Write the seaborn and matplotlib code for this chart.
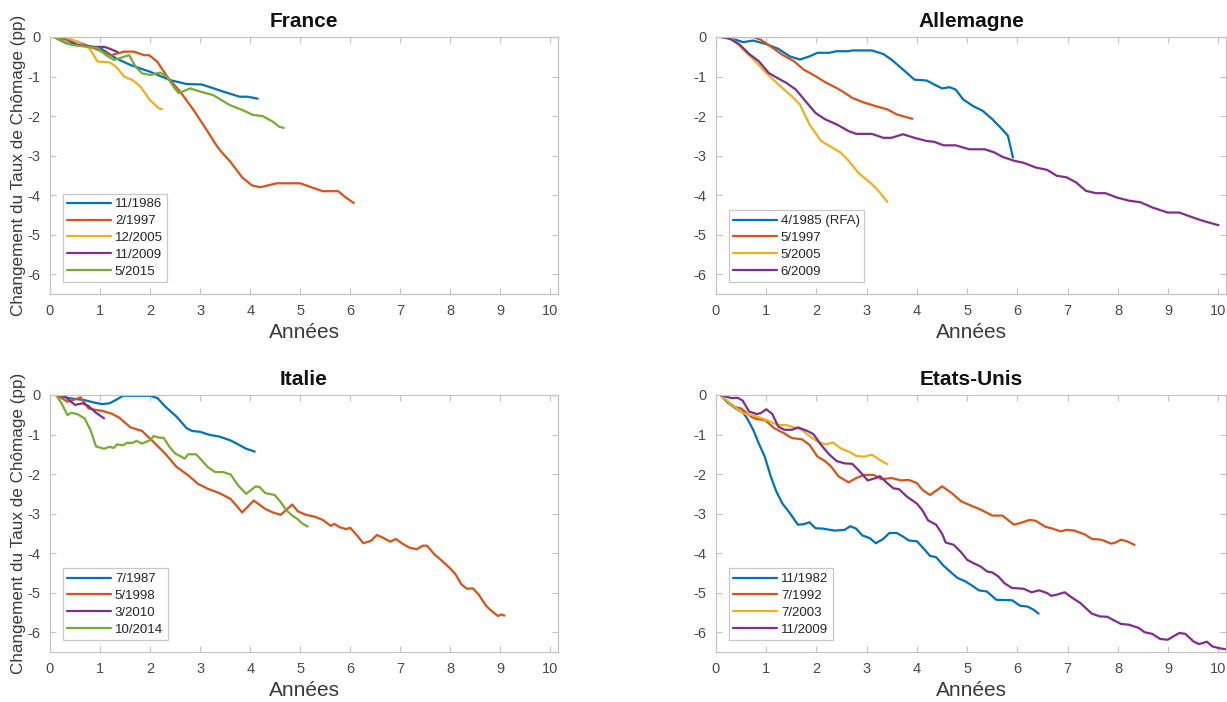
import numpy as np
import pandas as pd
import matplotlib
matplotlib.use("Agg")
import matplotlib.pyplot as plt
import seaborn as sns

# ---------------- DATA ----------------
# France
fr_1986_x = [0.08, 0.3, 0.55, 0.8, 1.02, 1.32, 1.61, 2.0, 2.4, 2.73, 3.03, 3.2, 3.46, 3.79, 3.95, 4.15]
fr_1986_y = [0.0, -0.05, -0.2, -0.25, -0.29, -0.54, -0.71, -0.88, -1.09, -1.19, -1.2, -1.27, -1.38, -1.51, -1.51, -1.56]
fr_1997_x = [0.08, 0.3, 0.55, 0.89, 1.22, 1.48, 1.68, 1.88, 1.98, 2.14, 2.34, 2.6, 2.87, 3.13, 3.33, 3.42, 3.6, 3.84,
             4.03, 4.2, 4.53, 5.0, 5.22, 5.45, 5.76, 5.9, 6.07]
fr_1997_y = [0.0, -0.05, -0.12, -0.29, -0.46, -0.37, -0.37, -0.46, -0.46, -0.62, -1.0, -1.38, -1.85, -2.35, -2.75,
             -2.9, -3.15, -3.55, -3.75, -3.8, -3.7, -3.7, -3.8, -3.9, -3.9, -4.05, -4.2]
fr_2005_x = [0.08, 0.3, 0.55, 0.79, 0.95, 1.19, 1.32, 1.48, 1.65, 1.81, 2.0, 2.17, 2.24]
fr_2005_y = [0.0, 0.0, -0.12, -0.29, -0.62, -0.64, -0.75, -1.0, -1.09, -1.26, -1.6, -1.8, -1.83]
fr_2009_x = [0.08, 0.33, 0.55, 0.89, 1.09, 1.22, 1.35]
fr_2009_y = [0.0, -0.16, -0.2, -0.25, -0.25, -0.31, -0.38]
fr_2015_x = [0.08, 0.43, 0.76, 0.95, 1.12, 1.28, 1.48, 1.58, 1.71, 1.84, 2.0, 2.2, 2.33, 2.47, 2.57, 2.8, 3.0,
             3.26, 3.59, 3.85, 4.05, 4.25, 4.45, 4.58, 4.67]
fr_2015_y = [0.0, -0.2, -0.25, -0.28, -0.46, -0.58, -0.5, -0.46, -0.75, -0.92, -0.96, -0.9, -1.0, -1.26, -1.42,
             -1.3, -1.38, -1.47, -1.72, -1.85, -1.97, -2.0, -2.14, -2.27, -2.3]

# Allemagne
de_1985_x = [0.1, 0.39, 0.54, 0.74, 1.0, 1.24, 1.47, 1.67, 1.86, 2.02, 2.25, 2.4, 2.64, 2.71, 3.1, 3.33, 3.49, 3.72,
             3.95, 4.19, 4.34, 4.5, 4.65, 4.77, 4.92, 5.12, 5.31, 5.5, 5.7, 5.81, 5.91]
de_1985_y = [0.0, -0.07, -0.13, -0.09, -0.18, -0.3, -0.49, -0.57, -0.49, -0.4, -0.4, -0.36, -0.36, -0.34, -0.34,
             -0.43, -0.57, -0.82, -1.08, -1.1, -1.2, -1.3, -1.27, -1.33, -1.58, -1.75, -1.87, -2.08, -2.34, -2.5, -3.05]
de_1997_x = [0.1, 0.74, 0.89, 1.09, 1.32, 1.55, 1.74, 1.98, 2.17, 2.4, 2.56, 2.71, 2.95, 3.18, 3.41, 3.6, 3.91]
de_1997_y = [0.0, 0.0, -0.07, -0.24, -0.45, -0.61, -0.82, -0.99, -1.14, -1.29, -1.41, -1.54, -1.66, -1.75, -1.83,
             -1.96, -2.07]
de_2005_x = [0.1, 0.31, 0.54, 0.78, 1.0, 1.24, 1.51, 1.67, 1.86, 2.09, 2.29, 2.48, 2.64, 2.83, 3.1, 3.26, 3.41]
de_2005_y = [0.0, -0.03, -0.32, -0.61, -0.91, -1.2, -1.5, -1.71, -2.21, -2.63, -2.78, -2.92, -3.13, -3.43, -3.72,
             -3.93, -4.17]
de_2009_x = [0.1, 0.27, 0.47, 0.66, 0.85, 1.05, 1.24, 1.4, 1.59, 1.78, 1.98, 2.17, 2.4, 2.64, 2.79, 3.1, 3.33, 3.49,
             3.72, 3.95, 4.19, 4.34, 4.53, 4.77, 5.04, 5.35, 5.54, 5.7, 5.93, 6.12, 6.36, 6.59, 6.78, 6.98, 7.17,
             7.36, 7.56, 7.75, 7.98, 8.22, 8.45, 8.68, 8.99, 9.22, 9.46, 9.69, 10.0]
de_2009_y = [0.0, -0.04, -0.19, -0.43, -0.61, -0.91, -1.05, -1.16, -1.33, -1.62, -1.92, -2.08, -2.21, -2.38, -2.45,
             -2.45, -2.55, -2.55, -2.46, -2.55, -2.63, -2.65, -2.74, -2.74, -2.84, -2.84, -2.92, -3.03, -3.13,
             -3.18, -3.3, -3.36, -3.51, -3.55, -3.68, -3.89, -3.95, -3.95, -4.06, -4.14, -4.18, -4.31, -4.44,
             -4.44, -4.55, -4.65, -4.76]

# Italie
it_1987_x = [0.12, 0.38, 0.69, 0.88, 1.04, 1.19, 1.31, 1.46, 2.0, 2.15, 2.3, 2.53, 2.73, 2.84, 3.0, 3.19, 3.38,
             3.61, 3.76, 3.92, 4.09]
it_1987_y = [0.0, -0.08, -0.13, -0.19, -0.23, -0.21, -0.13, -0.02, -0.02, -0.08, -0.29, -0.55, -0.84, -0.91, -0.93,
             -1.01, -1.05, -1.15, -1.25, -1.36, -1.43]
it_1998_x = [0.12, 0.35, 0.5, 0.61, 0.77, 0.92, 1.04, 1.23, 1.38, 1.61, 1.84, 2.07, 2.3, 2.53, 2.76, 2.96, 3.15,
             3.38, 3.61, 3.84, 4.07, 4.3, 4.45, 4.61, 4.84, 4.95, 5.11, 5.3, 5.45, 5.61, 5.68, 5.8, 5.91, 6.0,
             6.14, 6.26, 6.41, 6.53, 6.64, 6.8, 6.91, 7.03, 7.18, 7.33, 7.45, 7.53, 7.68, 7.83, 7.99, 8.1, 8.22,
             8.33, 8.45, 8.56, 8.72, 8.83, 8.95, 9.02, 9.08]
it_1998_y = [0.0, -0.17, -0.11, -0.06, -0.34, -0.38, -0.4, -0.47, -0.57, -0.82, -0.91, -1.19, -1.48, -1.82, -2.03,
             -2.25, -2.37, -2.48, -2.63, -2.97, -2.67, -2.88, -2.97, -3.03, -2.77, -2.94, -3.03, -3.08, -3.16,
             -3.31, -3.26, -3.35, -3.39, -3.36, -3.56, -3.75, -3.69, -3.54, -3.6, -3.71, -3.64, -3.75, -3.86,
             -3.9, -3.81, -3.81, -4.03, -4.19, -4.38, -4.53, -4.79, -4.9, -4.89, -5.04, -5.34, -5.47, -5.59,
             -5.55, -5.58]
it_2010_x = [0.12, 0.27, 0.38, 0.5, 0.65, 0.77, 0.92, 1.08]
it_2010_y = [0.0, 0.0, -0.13, -0.25, -0.21, -0.28, -0.45, -0.59]
it_2014_x = [0.12, 0.23, 0.35, 0.42, 0.54, 0.69, 0.81, 0.92, 1.08, 1.19, 1.27, 1.34, 1.46, 1.54, 1.65, 1.73, 1.84,
             2.0, 2.07, 2.19, 2.27, 2.38, 2.5, 2.61, 2.69, 2.76, 2.92, 3.03, 3.15, 3.3, 3.46, 3.61, 3.76, 3.92,
             4.0, 4.11, 4.19, 4.3, 4.49, 4.61, 4.72, 4.84, 4.95, 5.03, 5.15]
it_2014_y = [0.0, -0.21, -0.51, -0.45, -0.48, -0.59, -0.89, -1.3, -1.36, -1.31, -1.34, -1.25, -1.27, -1.21, -1.21,
             -1.16, -1.23, -1.14, -1.04, -1.08, -1.08, -1.3, -1.48, -1.55, -1.61, -1.5, -1.5, -1.65, -1.82, -1.95,
             -1.95, -2.01, -2.29, -2.5, -2.42, -2.31, -2.33, -2.48, -2.53, -2.71, -2.91, -3.05, -3.14, -3.24, -3.33]

# Etats-Unis
us_1982_x = [0.09, 0.23, 0.39, 0.54, 0.62, 0.74, 0.85, 0.97, 1.09, 1.2, 1.32, 1.47, 1.63, 1.74, 1.86, 1.98, 2.13,
             2.36, 2.56, 2.67, 2.79, 2.91, 3.06, 3.18, 3.33, 3.45, 3.6, 3.72, 3.84, 4.0, 4.15, 4.26, 4.38, 4.53,
             4.69, 4.81, 4.96, 5.12, 5.23, 5.39, 5.58, 5.89, 6.05, 6.2, 6.32, 6.42]
us_1982_y = [0.0, -0.19, -0.34, -0.45, -0.59, -0.88, -1.22, -1.56, -2.06, -2.44, -2.74, -2.99, -3.28, -3.27, -3.22,
             -3.37, -3.38, -3.43, -3.41, -3.32, -3.38, -3.55, -3.62, -3.75, -3.64, -3.49, -3.49, -3.58, -3.68,
             -3.7, -3.91, -4.07, -4.1, -4.32, -4.5, -4.63, -4.71, -4.84, -4.94, -4.97, -5.18, -5.19, -5.33, -5.35,
             -5.43, -5.53]
us_1992_x = [0.09, 0.27, 0.39, 0.5, 0.7, 0.81, 0.97, 1.16, 1.36, 1.51, 1.71, 1.86, 2.02, 2.17, 2.29, 2.44, 2.64,
             2.79, 2.95, 3.14, 3.29, 3.49, 3.68, 3.84, 4.0, 4.11, 4.26, 4.5, 4.69, 4.88, 5.08, 5.27, 5.5, 5.7,
             5.93, 6.05, 6.24, 6.36, 6.55, 6.7, 6.86, 6.98, 7.13, 7.33, 7.48, 7.67, 7.87, 7.95, 8.06, 8.18, 8.33]
us_1992_y = [0.0, -0.21, -0.31, -0.34, -0.55, -0.61, -0.63, -0.84, -0.97, -1.09, -1.12, -1.26, -1.56, -1.67,
             -1.81, -2.06, -2.21, -2.1, -2.02, -2.02, -2.13, -2.1, -2.16, -2.15, -2.23, -2.4, -2.53, -2.31, -2.48,
             -2.69, -2.8, -2.9, -3.05, -3.05, -3.28, -3.24, -3.16, -3.18, -3.33, -3.38, -3.45, -3.41, -3.43,
             -3.52, -3.64, -3.66, -3.76, -3.73, -3.66, -3.7, -3.79]
us_2003_x = [0.09, 0.31, 0.54, 0.78, 1.0, 1.24, 1.4, 1.55, 1.71, 1.86, 2.02, 2.17, 2.33, 2.48, 2.64, 2.79, 2.95,
             3.1, 3.26, 3.41]
us_2003_y = [0.0, -0.25, -0.46, -0.53, -0.63, -0.76, -0.76, -0.82, -0.88, -1.04, -1.18, -1.25, -1.2, -1.35,
             -1.43, -1.54, -1.56, -1.51, -1.64, -1.75]
us_2009_x = [0.09, 0.31, 0.43, 0.53, 0.66, 0.81, 0.89, 1.0, 1.12, 1.24, 1.36, 1.51, 1.63, 1.82, 1.94, 2.09, 2.25,
             2.4, 2.56, 2.71, 2.83, 2.95, 3.02, 3.18, 3.26, 3.41, 3.53, 3.64, 3.8, 4.0, 4.11, 4.22, 4.38, 4.5,
             4.57, 4.73, 4.88, 5.0, 5.12, 5.27, 5.39, 5.5, 5.62, 5.74, 5.89, 6.12, 6.28, 6.43, 6.59, 6.67, 6.78,
             6.94, 7.09, 7.25, 7.36, 7.48, 7.64, 7.79, 7.95, 8.06, 8.22, 8.41, 8.53, 8.68, 8.84, 8.99, 9.11, 9.22,
             9.34, 9.5, 9.61, 9.77, 9.88, 10.04, 10.15]
us_2009_y = [0.0, -0.08, -0.07, -0.14, -0.42, -0.48, -0.46, -0.36, -0.48, -0.8, -0.88, -0.88, -0.82, -0.91,
             -0.99, -1.26, -1.5, -1.67, -1.73, -1.74, -1.89, -2.06, -2.16, -2.1, -2.05, -2.23, -2.36, -2.38,
             -2.57, -2.75, -2.92, -3.17, -3.28, -3.51, -3.73, -3.79, -3.98, -4.17, -4.25, -4.34, -4.46, -4.49,
             -4.59, -4.76, -4.88, -4.9, -4.99, -4.94, -5.01, -5.08, -5.05, -4.99, -5.13, -5.26, -5.39, -5.53,
             -5.6, -5.61, -5.72, -5.79, -5.81, -5.89, -6.0, -6.04, -6.17, -6.19, -6.1, -6.02, -6.04, -6.23,
             -6.3, -6.24, -6.36, -6.41, -6.43]

panel_titles = ["France", "Allemagne", "Italie", "Etats-Unis"]
panel_series = [
    [("11/1986", fr_1986_x, fr_1986_y), ("2/1997", fr_1997_x, fr_1997_y), ("12/2005", fr_2005_x, fr_2005_y),
     ("11/2009", fr_2009_x, fr_2009_y), ("5/2015", fr_2015_x, fr_2015_y)],
    [("4/1985 (RFA)", de_1985_x, de_1985_y), ("5/1997", de_1997_x, de_1997_y), ("5/2005", de_2005_x, de_2005_y),
     ("6/2009", de_2009_x, de_2009_y)],
    [("7/1987", it_1987_x, it_1987_y), ("5/1998", it_1998_x, it_1998_y), ("3/2010", it_2010_x, it_2010_y),
     ("10/2014", it_2014_x, it_2014_y)],
    [("11/1982", us_1982_x, us_1982_y), ("7/1992", us_1992_x, us_1992_y), ("7/2003", us_2003_x, us_2003_y),
     ("11/2009", us_2009_x, us_2009_y)],
]
x_ticks = list(range(0, 11))
y_ticks = [0, -1, -2, -3, -4, -5, -6]
x_label = "Années"
y_label = "Changement du Taux de Chômage (pp)"

# ---------------- STYLE ----------------
sns.set_style("white")
plt.rcParams['font.family'] = ['Liberation Sans', 'DejaVu Sans']
matlab_colors = ["#0072BD", "#D95319", "#EDB120", "#7E2F8E", "#77AC30"]
panel_color_idx = [[0, 1, 2, 3, 4], [0, 1, 2, 3], [0, 1, 3, 4], [0, 1, 2, 3]]
axis_gray = "#c4c4c4"
tick_text = "#4a4a4a"

fig = plt.figure(figsize=(12.27, 7.02), dpi=100)
positions = [
    [50 / 1227, 1 - 294 / 702, 508 / 1227, 257 / 702],
    [716 / 1227, 1 - 294 / 702, 510 / 1227, 257 / 702],
    [50 / 1227, 1 - 652 / 702, 508 / 1227, 257 / 702],
    [716 / 1227, 1 - 652 / 702, 510 / 1227, 257 / 702],
]

for i, (title, series) in enumerate(zip(panel_titles, panel_series)):
    ax = fig.add_axes(positions[i])
    frames = []
    for label, xs, ys in series:
        frames.append(pd.DataFrame({"x": xs, "y": ys, "serie": label}))
    df = pd.concat(frames, ignore_index=True)
    labels = [s[0] for s in series]
    palette = {lab: matlab_colors[c] for lab, c in zip(labels, panel_color_idx[i])}
    sns.lineplot(data=df, x="x", y="y", hue="serie", hue_order=labels, palette=palette,
                 sort=False, estimator=None, linewidth=1.6, ax=ax)
    ax.set_xlim(0, 10.15)
    ax.set_ylim(-6.5, 0)
    ax.set_xticks(x_ticks)
    ax.set_yticks(y_ticks)
    ax.set_xticklabels([str(t) for t in x_ticks])
    ax.set_yticklabels([str(t) for t in y_ticks])
    ax.tick_params(direction="in", length=4, width=0.8, colors=axis_gray, labelcolor=tick_text,
                   labelsize=10.5, top=True, right=True, bottom=True, left=True, pad=7)
    for sp in ax.spines.values():
        sp.set_visible(True)
        sp.set_color(axis_gray)
        sp.set_linewidth(0.9)
    ax.set_title(title, fontsize=15, fontweight="bold", color="#111111", pad=7)
    ax.set_xlabel(x_label, fontsize=15, color="#3a3a3a", labelpad=4)
    if i % 2 == 0:
        ax.set_ylabel(y_label, fontsize=12.3, color="#3a3a3a", labelpad=1)
    else:
        ax.set_ylabel("")
    handles, lbls = ax.get_legend_handles_labels()
    leg = ax.legend(handles, lbls, loc="lower left", bbox_to_anchor=(0.025, 0.045), fontsize=9.5,
                    frameon=True, fancybox=False, framealpha=1, edgecolor="#c8c8c8",
                    handlelength=3.3, handletextpad=0.3, labelspacing=0.35, borderpad=0.35,
                    borderaxespad=0)
    leg.get_frame().set_linewidth(0.9)
    for t in leg.get_texts():
        t.set_color("#262626")

fig.savefig("out.png", dpi=100, facecolor="white")
